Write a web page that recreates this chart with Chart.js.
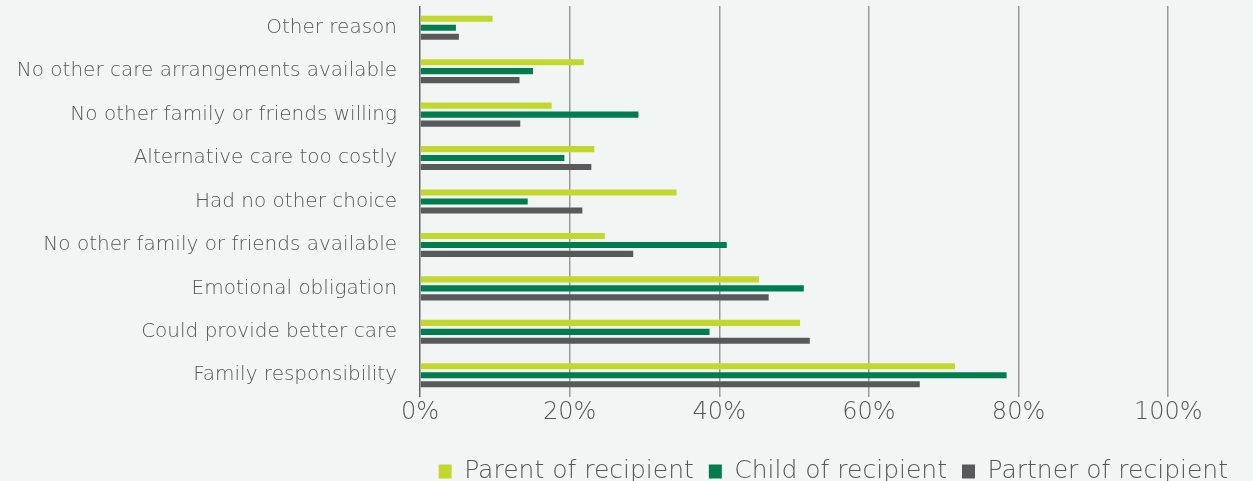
<!DOCTYPE html>
<html>
<head>
<meta charset="utf-8">
<script src="https://cdn.jsdelivr.net/npm/chart.js@4.4.1/dist/chart.umd.min.js"></script>
<style>
    html, body { margin: 0; padding: 0; background: #f1f6f4; }
    #wrap { width: 1253px; height: 481px; position: relative; }
</style>
</head>
<body>
<div id="wrap"><canvas id="reasonsChart"></canvas></div>
<script>
// ===== DATA =====
const reasons = [
    'Other reason',
    'No other care arrangements available',
    'No other family or friends willing',
    'Alternative care too costly',
    'Had no other choice',
    'No other family or friends available',
    'Emotional obligation',
    'Could provide better care',
    'Family responsibility'
];
const parentOfRecipient  = [9.7, 21.9, 17.6, 23.3, 34.3, 24.7, 45.3, 50.8, 71.5];
const childOfRecipient   = [4.8, 15.1, 29.2, 19.3, 14.4, 41.0, 51.3, 38.7, 78.4];
const partnerOfRecipient = [5.2, 13.3, 13.4, 22.9, 21.7, 28.5, 46.6, 52.1, 66.8];
const seriesNames = ['Parent of recipient', 'Child of recipient', 'Partner of recipient'];
const percentTicks = [0, 20, 40, 60, 80, 100];

// ===== STYLE =====
const textColor = '#555555';
const fontFamily = '"DejaVu Sans", "Open Sans", sans-serif';
const colors = ['#c3d82e', '#007c4e', '#58595b'];

function makeSet(name, data, color) {
    return {
        label: name,
        data: data,
        backgroundColor: color,
        borderWidth: 0,
        categoryPercentage: 0.62,
        barPercentage: 0.68
    };
}

new Chart(document.getElementById('reasonsChart'), {
    type: 'bar',
    data: {
        labels: reasons,
        datasets: [
            makeSet(seriesNames[0], parentOfRecipient, colors[0]),
            makeSet(seriesNames[1], childOfRecipient, colors[1]),
            makeSet(seriesNames[2], partnerOfRecipient, colors[2])
        ]
    },
    options: {
        indexAxis: 'y',
        responsive: true,
        maintainAspectRatio: false,
        animation: false,
        layout: {
            padding: { top: 6, right: 10, bottom: -13, left: 0 }
        },
        plugins: {
            tooltip: { enabled: false },
            legend: {
                position: 'bottom',
                align: 'end',
                labels: {
                    color: textColor,
                    boxWidth: 13,
                    boxHeight: 14,
                    padding: 15,
                    font: { family: fontFamily, size: 25, weight: 200 }
                }
            }
        },
        scales: {
            x: {
                min: 0,
                max: 110,
                afterBuildTicks: (scale) => {
                    scale.ticks = percentTicks.map(v => ({ value: v }));
                },
                afterFit: (scale) => {
                    scale.paddingLeft = 0;
                    scale.paddingRight = 0;
                    scale.height = 47;
                },
                grid: {
                    drawTicks: false,
                    color: (ctx) => ctx.tick && ctx.tick.value === 0 ? '#666666' : '#9a9a9a',
                    lineWidth: 1.5
                },
                border: { display: false },
                ticks: {
                    color: textColor,
                    padding: 1,
                    font: { family: fontFamily, size: 24, weight: 200 },
                    callback: (value) => value + '%'
                }
            },
            y: {
                afterFit: (scale) => {
                    scale.width = 420;
                    scale.paddingTop = 0;
                    scale.paddingBottom = 0;
                },
                grid: { display: false, drawTicks: false },
                border: { display: false },
                ticks: {
                    color: textColor,
                    padding: 23,
                    font: { family: fontFamily, size: 20, weight: 200 }
                }
            }
        }
    }
});
</script>
</body>
</html>
